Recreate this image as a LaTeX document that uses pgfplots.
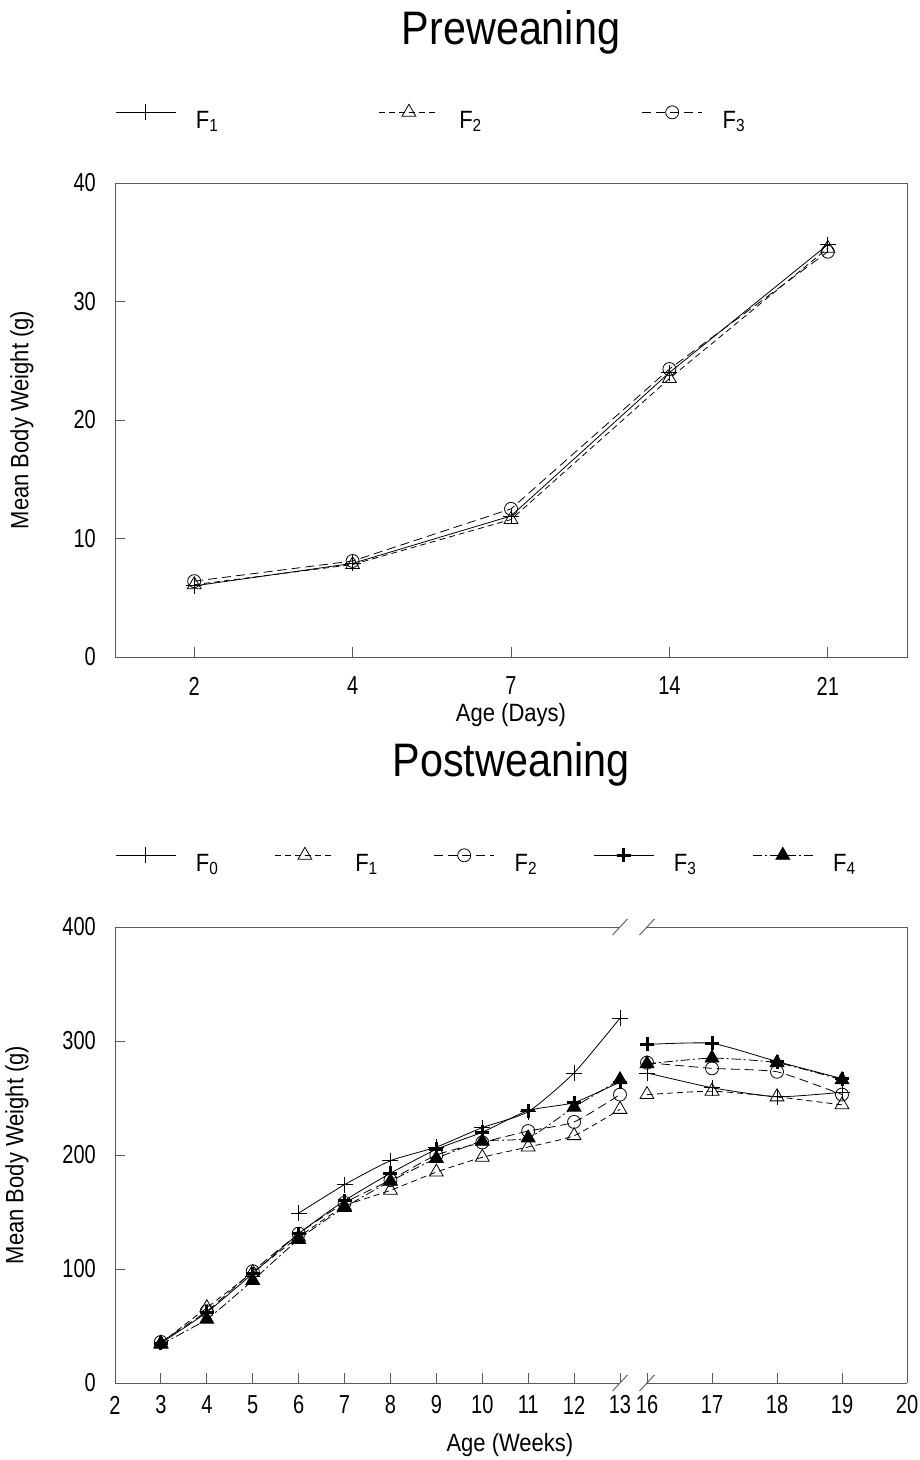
\documentclass[border=0pt]{standalone}
\usepackage{fontspec}
\setmainfont{Liberation Sans}[FakeStretch=0.88]
\newfontfamily\tickfont{Liberation Sans}[FakeStretch=0.77]
\usepackage{pgfplots}
\pgfplotsset{compat=1.18}

\pgfplotsset{
  myaxis/.style={
    scale only axis, anchor=south west,
    axis line style={draw=black!65, line width=0.9pt},
    tick style={draw=black!65, line width=0.9pt},
    /pgf/number format/assume math mode=true,
    ticklabel style={font=\tickfont\fontsize{26}{30}\selectfont},
    label style={font=\fontsize{25}{29}\selectfont},
    yticklabel style={anchor=east, inner xsep=0pt, xshift=-19pt},
    clip=false,
    legend image code/.code={\draw[mark repeat=2,mark phase=2,##1] plot coordinates {(0pt,8pt) (30pt,8pt) (60pt,8pt)};},
    legend style={draw=none, fill=none, inner sep=0pt, nodes={inner sep=0pt}, font=\fontsize{25}{29}\selectfont},
  },
  s0/.style={black, line width=0.8pt, mark=+, mark size=8pt, mark options={solid}},
  s1/.style={black, line width=0.8pt, dash pattern=on 6pt off 4pt, mark=triangle, mark size=8pt, mark options={solid}},
  s2/.style={black, line width=0.8pt, dash pattern=on 9pt off 5pt, mark=o, mark size=6.5pt, mark options={solid}},
  s3/.style={black, line width=0.8pt, mark=+, mark size=7pt, mark options={solid, line width=3pt}},
  s4/.style={black, line width=0.8pt, dash pattern=on 9pt off 3pt on 2pt off 3pt, mark=triangle*, mark size=8pt, mark options={solid}},
}

\begin{document}
\begin{tikzpicture}
\useasboundingbox (0pt,0pt) rectangle (920pt,1460pt);

% ---------------- Preweaning ----------------
\node[font=\fontsize{47}{52}\selectfont, anchor=base] at (511pt,1415pt) {Preweaning};
\begin{axis}[myaxis, at={(115pt,803pt)}, width=792pt, height=474pt,
  xmin=-0.5, xmax=4.5, ymin=0, ymax=40,
  xtick={0,1,2,3,4}, xticklabels={2,4,7,14,21}, ytick={0,10,20,30,40},
  xtick pos=bottom, ytick pos=left, tick align=inside, major tick length=10pt,
  xticklabel style={anchor=center, yshift=-29pt},
  xlabel={Age (Days)}, ylabel={Mean Body Weight (g)},
  xlabel style={at={([yshift=-58pt]rel axis cs:0.5,0)}, anchor=center},
  ylabel style={at={([xshift=-93pt]rel axis cs:0,0.5)}, anchor=center},
  legend columns=3,
  legend style={at={(0,1)}, anchor=west, yshift=66pt,
    /tikz/every odd column/.append style={column sep=20pt},
    /tikz/every even column/.append style={column sep=160pt}},
]
\addplot[s0] coordinates {(0,6.0) (1,7.9) (2,11.9) (3,24.0) (4,34.8)};
\addlegendentry{F\textsubscript{1}}
\addplot[s1] coordinates {(0,6.1) (1,7.8) (2,11.6) (3,23.5) (4,34.5)};
\addlegendentry{F\textsubscript{2}}
\addplot[s2] coordinates {(0,6.4) (1,8.1) (2,12.5) (3,24.3) (4,34.2)};
\addlegendentry{F\textsubscript{3}}
\end{axis}

% ---------------- Postweaning ----------------
\node[font=\fontsize{47}{52}\selectfont, anchor=base] at (511pt,683pt) {Postweaning};
\begin{axis}[myaxis, at={(115pt,77pt)}, width=505pt, height=456pt,
  xmin=2, xmax=13, ymin=0, ymax=400,
  axis x line*=box, axis y line*=left,
  xtick={2,...,13}, ytick={0,100,200,300,400},
  xtick pos=bottom, ytick pos=left, tick align=inside, major tick length=10pt,
  xticklabel style={anchor=center, yshift=-22pt},
  xlabel={Age (Weeks)}, ylabel={Mean Body Weight (g)},
  xlabel style={at={([yshift=-62pt]rel axis cs:0.782,0)}, anchor=center},
  ylabel style={at={([xshift=-98pt]rel axis cs:0,0.5)}, anchor=center},
  legend columns=5,
  legend style={at={(0,1)}, anchor=west, yshift=67pt,
    /tikz/every odd column/.append style={column sep=20pt},
    /tikz/every even column/.append style={column sep=56pt}},
]
\addplot[s0, smooth, tension=0.35] coordinates {(6,149) (7,174) (8,195) (9,207) (10,224) (11,238) (12,272) (13,320)};
\addlegendentry{F\textsubscript{0}}
\addplot[s1, smooth, tension=0.35] coordinates {(3,35) (4,66) (5,97) (6,128) (7,155) (8,169) (9,185) (10,198) (11,207) (12,217) (13,240)};
\addlegendentry{F\textsubscript{1}}
\addplot[s2, smooth, tension=0.35] coordinates {(3,36) (4,63) (5,98) (6,131) (7,158) (8,178) (9,200) (10,211) (11,221) (12,229) (13,253)};
\addlegendentry{F\textsubscript{2}}
\addplot[s3, smooth, tension=0.35] coordinates {(3,35) (4,62) (5,96) (6,131) (7,160) (8,184) (9,205) (10,220) (11,239) (12,246) (13,264)};
\addlegendentry{F\textsubscript{3}}
\addplot[s4, smooth, tension=0.35] coordinates {(3,34) (4,56) (5,90) (6,126) (7,154) (8,177) (9,197) (10,212) (11,215) (12,242) (13,266)};
\addlegendentry{F\textsubscript{4}}
\draw[black!65, line width=0.9pt] ([xshift=-7.5pt,yshift=-8pt]rel axis cs:1,0) -- ([xshift=7.5pt,yshift=8pt]rel axis cs:1,0);
\draw[black!65, line width=0.9pt] ([xshift=-7.5pt,yshift=-8pt]rel axis cs:1,1) -- ([xshift=7.5pt,yshift=8pt]rel axis cs:1,1);
\end{axis}

\begin{axis}[myaxis, at={(647pt,77pt)}, width=260pt, height=456pt,
  xmin=16, xmax=20, ymin=0, ymax=400,
  axis x line*=box, axis y line*=right,
  xtick={16,...,20}, ytick=\empty,
  xtick pos=bottom, tick align=inside, major tick length=10pt,
  xticklabel style={anchor=center, yshift=-22pt},
]
\addplot[s0, smooth, tension=0.3] coordinates {(16,272) (17,259) (18,251) (19,255)};
\addplot[s1, smooth, tension=0.3] coordinates {(16,253) (17,256) (18,251) (19,244)};
\addplot[s2, smooth, tension=0.3] coordinates {(16,281) (17,276) (18,273) (19,253)};
\addplot[s3, smooth, tension=0.3] coordinates {(16,297) (17,298) (18,282) (19,267)};
\addplot[s4, smooth, tension=0.3] coordinates {(16,280) (17,285) (18,281) (19,266)};
\draw[black!65, line width=0.9pt] ([xshift=-7.5pt,yshift=-8pt]rel axis cs:0,0) -- ([xshift=7.5pt,yshift=8pt]rel axis cs:0,0);
\draw[black!65, line width=0.9pt] ([xshift=-7.5pt,yshift=-8pt]rel axis cs:0,1) -- ([xshift=7.5pt,yshift=8pt]rel axis cs:0,1);
\end{axis}
\end{tikzpicture}
\end{document}
